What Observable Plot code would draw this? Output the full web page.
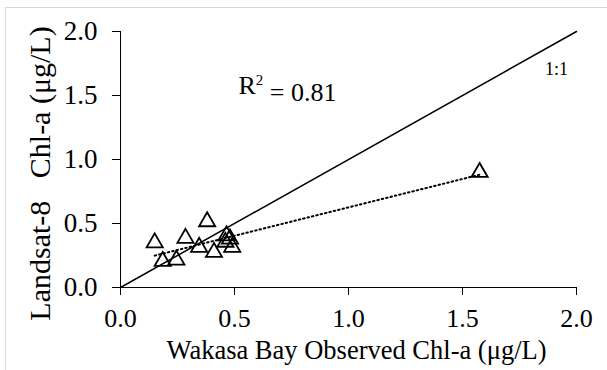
<!DOCTYPE html>
<html><head><meta charset="utf-8">
<script src="https://cdn.jsdelivr.net/npm/d3@7"></script>
<script src="https://cdn.jsdelivr.net/npm/@observablehq/plot@0.6"></script>
<style>
body{margin:0;background:#fff;}
#wrap{position:relative;width:607px;height:370px;}
#frame{position:absolute;left:5px;top:7px;width:602px;height:363px;border-top:1px solid #d9d9d9;border-left:1px solid #d9d9d9;box-sizing:border-box;}
#chart{position:absolute;left:0;top:0;}
#chart text{white-space:pre;}
</style></head>
<body><div id="wrap"><div id="frame"></div><div id="chart"></div></div>
<script>
const observed = [0.15, 0.185, 0.245, 0.285, 0.345, 0.38, 0.41, 0.465, 0.46, 0.48, 0.49, 1.575];
const landsat  = [0.35, 0.205, 0.215, 0.385, 0.315, 0.515, 0.275, 0.405, 0.355, 0.38, 0.315, 0.90];
const oneToOne = [0, 2];
const xTicks = [0, 0.5, 1.0, 1.5, 2.0];
const yTicks = [0, 0.5, 1.0, 1.5, 2.0];
const xTitle = "Wakasa Bay Observed Chl-a (μg/L)";
const yTitle = "Landsat-8\u00A0\u00A0\u00A0Chl-a (μg/L)";
const r2Parts = ["R", "2", " ", "=", " ", "0.81"];
const lineLabel = "1:1";

const pts = observed.map((x, i) => ({x, y: landsat[i]}));
const font = "Liberation Serif";

const chart = Plot.plot({
  width: 607, height: 370,
  marginLeft: 120, marginRight: 31, marginTop: 31, marginBottom: 83,
  style: {fontFamily: font, fontSize: "26px", color: "#000", background: "transparent", overflow: "visible"},
  x: {domain: [0, 2], label: null},
  y: {domain: [0, 2], label: null},
  marks: [
    Plot.ruleY([0], {stroke: "#000", strokeWidth: 1}),
    Plot.ruleX([0], {stroke: "#000", strokeWidth: 1}),
    Plot.line(oneToOne.map(v => ({x: v, y: v})), {x: "x", y: "y", stroke: "#000", strokeWidth: 1.5}),
    Plot.linearRegressionY(pts, {x: "x", y: "y", ci: 0, stroke: "#000", strokeWidth: 2, strokeDasharray: "1.5,3"}),
    Plot.dot(pts, {x: "x", y: "y", symbol: "triangle", r: 6, stroke: "#000", strokeWidth: 1.8, fill: "none"}),
    Plot.text([r2Parts.join("")], {frameAnchor: "top-left", dx: 167, dy: 44, text: d => d, fontSize: 26, fontFamily: font, textAnchor: "middle", className: "r2"}),
    Plot.text([lineLabel], {frameAnchor: "top-right", dx: -20, dy: 31, text: d => d, fontSize: 18, fontFamily: font, textAnchor: "middle"}),
    Plot.axisX({ticks: xTicks, tickFormat: d3.format(".1f"), label: null, tickSize: 8, tickPadding: 13, fontSize: 26}),
    Plot.axisY({ticks: yTicks, tickFormat: d3.format(".1f"), label: null, tickSize: 8, tickPadding: 15, fontSize: 27}),
    Plot.text([xTitle], {frameAnchor: "bottom", dx: 8, dy: 71, text: d => d, fontSize: 26.5, fontFamily: font, textAnchor: "middle"}),
    Plot.text([yTitle], {frameAnchor: "left", dx: -80, dy: 14, rotate: -90, text: d => d, fontSize: 30, fontFamily: font, textAnchor: "middle"})
  ]
});
// render R² with a superscript and separate runs so each part keeps the serif face
d3.select(chart).selectAll("g.r2 text").each(function() {
  const t = d3.select(this);
  t.text(null);
  t.append("tspan").text(r2Parts[0]);
  t.append("tspan").attr("font-size", "15px").attr("dy", "-0.6em").text(r2Parts[1]);
  t.append("tspan").attr("dy", "0.6em").attr("font-size", "26px").text(r2Parts[2]);
  t.append("tspan").attr("font-family", "'Liberation Serif','DejaVu Serif',serif").attr("font-size", "26px").style("font-style", "normal").text(r2Parts[3]);
  t.append("tspan").attr("font-size", "26px").text(r2Parts[4]);
  t.append("tspan").attr("font-size", "26px").style("font-variant-numeric", "tabular-nums").text(r2Parts[5]);
});
document.getElementById("chart").appendChild(chart);
</script></body></html>
